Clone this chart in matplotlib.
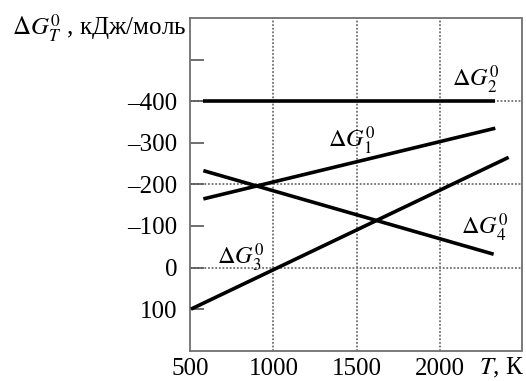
import matplotlib
matplotlib.use("Agg")
import matplotlib.pyplot as plt

plt.rcParams['font.family'] = ['Liberation Serif', 'DejaVu Serif']
plt.rcParams['mathtext.fontset'] = 'stix'

# Data (T in K, ΔG in kJ/mol)
T1 = [580, 2330]; G1 = [-165, -335]
T2 = [580, 2330]; G2 = [-400, -400]
T3 = [506, 2410]; G3 = [100, -265]
T4 = [580, 2320]; G4 = [-233, -32]

xticks = [500, 1000, 1500, 2000]
xticklabels = ['500', '1000', '1500', '2000']
yticks = [-500, -400, -300, -200, -100, 0, 100]
yticklabels = ['', '\u2013400', '\u2013300', '\u2013200', '\u2013100', '0', '100']

fig = plt.figure(figsize=(5.26, 3.81), dpi=100)
ax = fig.add_axes([190/526, (381-350.7)/381, 332/526, (350.7-18)/381])

gridc = '#707070'
ls = (0, (1, 1))
for xv in [1000, 1500, 2000]:
    ax.axvline(xv, color=gridc, lw=1.3, ls=ls, zorder=1)
for yv in [-400, -200, 0]:
    ax.axhline(yv, color=gridc, lw=1.3, ls=ls, zorder=1)
for s in ax.spines.values():
    s.set_color(gridc)
    s.set_linewidth(1.3)
    s.set_linestyle(ls)

for T, G in [(T1, G1), (T2, G2), (T3, G3), (T4, G4)]:
    ax.plot(T, G, color='black', lw=2.6, solid_capstyle='butt', zorder=3)

ax.set_xlim(500, 2490)
ax.set_ylim(200, -600)
ax.set_xticks(xticks)
ax.set_xticklabels(xticklabels)
ax.set_yticks(yticks)
ax.set_yticklabels(yticklabels)
ax.tick_params(axis='y', direction='in', length=10, width=1.2, color='#555555',
               labelsize=18, pad=9)
ax.tick_params(axis='x', length=0, labelsize=18, pad=5)

fs = 17.5
ax.text(2214, -450, r'$\Delta G_2^0$', fontsize=fs, ha='center', va='center')
ax.text(1468, -305, r'$\Delta G_1^0$', fontsize=fs, ha='center', va='center')
ax.text(2268, -95, r'$\Delta G_4^0$', fontsize=fs, ha='center', va='center')
ax.text(805, -23, r'$\Delta G_3^0$', fontsize=fs, ha='center', va='center')

fig.text(99/526, 1-28/381, r'$\Delta G_T^0$ , кДж/моль', fontsize=18, ha='center', va='center')
fig.text(502/526, 1-368/381, r'$T$, К', fontsize=18, ha='center', va='center')

fig.savefig('out.png', dpi=100)
